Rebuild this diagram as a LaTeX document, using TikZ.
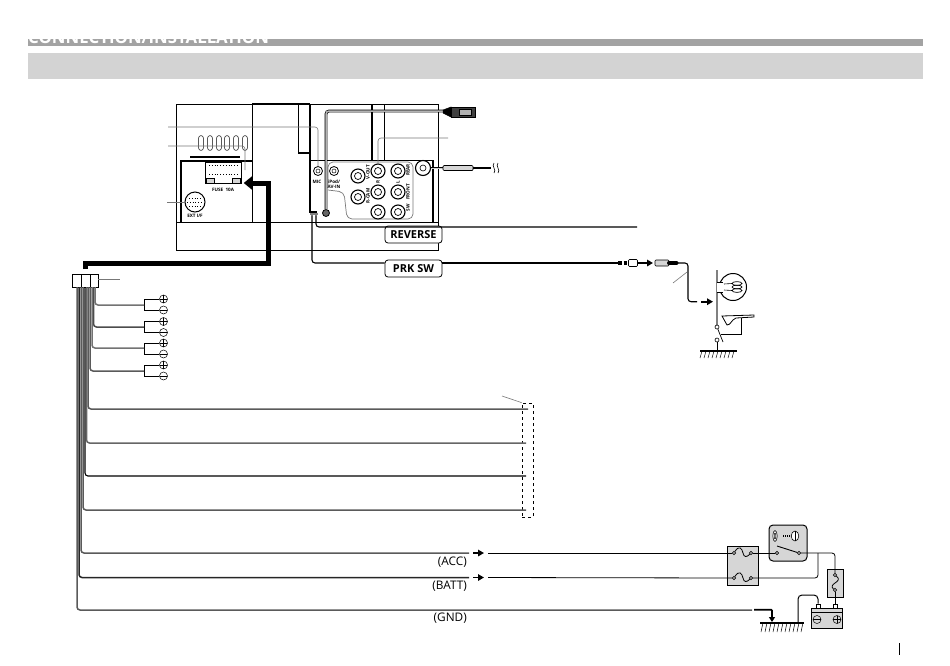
\documentclass[tikz,border=0pt]{standalone}
\usepackage{fontspec}
\setmainfont{Open Sans}
\usetikzlibrary{arrows.meta, shapes}
\definecolor{barDark}{HTML}{A3A3A3}
\definecolor{barLight}{HTML}{D3D3D3}
\definecolor{wireGray}{HTML}{5A5A5A}
\definecolor{leadGray}{HTML}{777777}
\definecolor{fillGray}{HTML}{D6D6D6}
\tikzset{
  unit/.style={line width=.9pt},
  thin wire/.style={line width=.8pt, rounded corners=3pt},
  wire/.style={line width=1.1pt, rounded corners=3pt},
  gray wire/.style={line width=1.5pt, wireGray, rounded corners=3pt},
  leader/.style={line width=.6pt, leadGray, rounded corners=3pt},
  jack/.style={circle, draw, line width=.8pt, inner sep=0pt, minimum size=#1, fill=white},
  ring/.style={circle, draw, line width=.6pt, inner sep=0pt, minimum size=3.2pt, fill=white},
  tiny/.style={inner sep=0pt, font=\fontsize{4.6}{5}\selectfont\bfseries},
  tag/.style={draw, rounded corners=3pt, line width=.8pt, fill=white, minimum width=57pt, minimum height=17pt, inner sep=0pt, font=\fontsize{11}{12}\selectfont\bfseries},
  lab/.style={inner sep=0pt, anchor=east, font=\fontsize{11.8}{13}\selectfont},
  panel/.style={draw, line width=.7pt, fill=fillGray},
  pole plus/.style={circle, draw, line width=.5pt, inner sep=0pt, minimum size=8pt, path picture={\draw[line width=.5pt] (path picture bounding box.north) -- (path picture bounding box.south) (path picture bounding box.east) -- (path picture bounding box.west);}},
  pole minus/.style={circle, draw, line width=.5pt, inner sep=0pt, minimum size=8pt, path picture={\draw[line width=.5pt] (path picture bounding box.east) -- (path picture bounding box.west);}},
  stub/.style={line width=1.8pt, -{Triangle[length=6pt,width=6.5pt]}},
}
\begin{document}
\begin{tikzpicture}[x=1pt, y=-1pt]
\useasboundingbox (0,0) rectangle (950,665);

% header bars
\fill[barDark] (28,39) rectangle (923,46);
\node[anchor=base west, inner sep=0pt, text=white, font=\fontsize{16.8}{17}\selectfont\bfseries] (title) at (28,43) {CONNECTION/INSTALLATION};
\fill[barLight] (28,53) rectangle (923,79);

% head unit
\draw[unit] (176,104) rectangle (438,250);
\draw[unit] (176,222) -- (438,222);
\draw[line width=1.5pt] (252,104) -- (310,104);
\draw[unit] (252,104) -- (252,222);
\draw[unit] (298,104) -- (298,153);
\draw[line width=1.5pt] (298,153) -- (310,153);
\draw[line width=1.3pt] (310,104) -- (310,212) -- (317,212);
\draw[line width=1.2pt] (372,104) -- (372,160);
\draw[unit] (384,104) -- (384,160);
\draw[unit] (310,160) -- (433,160);
\draw[line width=1.2pt] (433,160) -- (433,222);
\draw[line width=1.2pt] (181,222) -- (181,161) -- (252,161);
\draw[line width=1.2pt] (190,157) -- (240,157);
\foreach \px in {201,210,219,227,236,245}
  \draw[line width=.5pt] (\px-2.4,148) -- (\px-2.4,138) arc (180:360:2.4) -- (\px+2.4,148) arc (0:180:2.4);

% fuse socket
\draw[line width=.8pt, fill=white] (205,162) rectangle (241,183);
\draw[line width=.6pt, fill=fillGray] (206,178) rectangle (214,183);
\draw[line width=.6pt, fill=fillGray] (232,178) rectangle (240,183);
\draw[line width=.8pt, dotted] (209,165) -- (238,165);
\draw[line width=.8pt, dotted] (209,174) -- (238,174);
\node[tiny] (fuselab) at (223,190) {FUSE\ \ 10A};

% ports
\node[jack=20pt, line width=1pt] (extif) at (195,202) {};
\draw[line width=.8pt, dotted] (189,198) -- (201,198);
\draw[line width=.8pt, dotted] (187,202) -- (203,202);
\draw[line width=.8pt, dotted] (189,206) -- (201,206);
\node[tiny] (extlab) at (195,216) {EXT I/F};
\node[jack=9pt] (mic) at (318,171) {};
\node[jack=4pt, line width=.5pt] at (mic) {};
\node[tiny] (miclab) at (317,182) {MIC};
\node[jack=9pt] (ipod) at (334,171) {};
\node[jack=4pt, line width=.5pt] at (ipod) {};
\node[tiny, align=center] (ipodlab) at (334,184.5) {iPod/\\AV-IN};
\draw[leader, line width=.7pt, rounded corners=5pt] (328,188) -- (328,162) -- (413,162) -- (413,219) -- (347,219) -- (344,192) -- (328,190);
\node[jack=14pt, line width=1.1pt] (vout) at (358,176) {};
\node[jack=14pt, line width=1.1pt] (rcam) at (358,197) {};
\node[jack=14pt, line width=1.1pt] (rearR) at (378,171) {};
\node[jack=14pt, line width=1.1pt] (frontR) at (378,192) {};
\node[jack=14pt, line width=1.1pt] (swR) at (378,212) {};
\node[jack=14pt, line width=1.1pt] (rearL) at (398,171) {};
\node[jack=14pt, line width=1.1pt] (frontL) at (398,192) {};
\node[jack=14pt, line width=1.1pt] (swL) at (398,212) {};
\node[jack=7pt, line width=.7pt] at (vout) {};
\node[jack=7pt, line width=.7pt] at (rcam) {};
\node[jack=7pt, line width=.7pt] at (rearR) {};
\node[jack=7pt, line width=.7pt] at (frontR) {};
\node[jack=7pt, line width=.7pt] at (swR) {};
\node[jack=7pt, line width=.7pt] at (rearL) {};
\node[jack=7pt, line width=.7pt] at (frontL) {};
\node[jack=7pt, line width=.7pt] at (swL) {};
\node[tiny, rotate=90] (voutlab) at (368,172) {V-OUT};
\node[tiny, rotate=90] (rcamlab) at (368,196) {R-CAM};
\node[tiny, rotate=90] (rlab) at (378,182) {R};
\node[tiny, rotate=90] (llab) at (398,182) {L};
\node[tiny, rotate=90] (rearlab) at (408,170) {REAR};
\node[tiny, rotate=90] (frontlab) at (408,192) {FRONT};
\node[tiny, rotate=90] (swlab) at (408,208) {SW};
\node[jack=15pt, line width=1.1pt] (ant) at (423,168) {};
\node[jack=6pt, line width=.6pt] at (ant) {};

% antenna lead
\coordinate (antplugl) at (443,168);
\coordinate (antplugr) at (473,168);
\coordinate (antend) at (491,168);
\draw[line width=1.8pt] (ant) -- (antplugl);
\draw[line width=1pt, white!80!black] (ant) -- (antplugl);
\draw[line width=.7pt, fill=fillGray, rounded corners=1pt] (antplugl) ++(0,-2.5) rectangle ++(30,5);
\draw[line width=1.6pt] (antplugr) -- (antend);
\draw[line width=.6pt] (494,163) .. controls (491,166) and (497,170) .. (494,173);
\draw[line width=.6pt] (498,163) .. controls (495,166) and (501,170) .. (498,173);

% usb
\node[circle, draw, fill=black!60, line width=.8pt, inner sep=0pt, minimum size=7pt] (usbsock) at (326,213) {};
\coordinate (usbplug) at (443,111);
\draw[line width=2.8pt, rounded corners=3pt] (usbsock) -- (326,111) -- (usbplug);
\draw[line width=1.5pt, white!70!black, rounded corners=3pt] (usbsock) -- (326,111) -- (usbplug);
\node[draw, fill=black!75, line width=.6pt, minimum width=24pt, minimum height=10pt, inner sep=0pt, anchor=west] (usbbody) at (451,112) {};
\node[draw, fill=white!70!black, inner sep=0pt, minimum width=12pt, minimum height=6pt] (usbhead) at (465,112) {};
\draw[fill=black, line width=.5pt] (443,110) -- (451,107) -- (451,117) -- (443,113) -- cycle;

% leaders
\coordinate (leadmic) at (168,127);
\coordinate (leadfuse) at (168,146);
\coordinate (leadext) at (167,202);
\coordinate (leadrca) at (448,138);
\draw[leader] (leadmic) -- (318,127) -- (mic);
\draw[leader] (leadfuse) -- (245,146) -- (245,170);
\draw[leader] (leadext) -- (extif);
\draw[leader] (leadrca) -- (378,138) -- (rearR);

% thick harness
\node[inner sep=0pt] (harness) at (243,183) {};
\draw[line width=5pt, miter limit=10, -{Triangle[length=9pt,width=14pt]}] (85,269) -- (85,263.5) -- (268,263.5) -- (268,183) -- (harness);

% reverse and parking
\node[tag] (rev) at (413.5,234.5) {REVERSE};
\node[tag] (prk) at (413.5,268.5) {PRK SW};
\node[circle, draw, line width=.5pt, inner sep=0pt, minimum size=3pt] (revsock) at (316,214) {};
\node[circle, draw, line width=.5pt, inner sep=0pt, minimum size=3pt] (prksock) at (312,214) {};
\coordinate (revend) at (637,227);
\draw[wire] (revsock) -- (316,227) -- (rev.north west |- 0,227) -- (rev.north east |- 0,227) -- (revend);
\draw[wire] (prksock) -- (312,263) -- (prk.west |- 0,263);
\draw[wire] (prk.east |- 0,263) -- (618,263);

% parking connector
\node[draw, line width=.6pt, fill=white, rounded corners=1pt, minimum width=9pt, minimum height=7pt, inner sep=0pt] (prkplug) at (633,263) {};
\draw[line width=3.5pt, dotted, line cap=butt] (618,263) -- (prkplug.west);
\node[draw, line width=.6pt, fill=fillGray, rounded corners=1pt, minimum width=14pt, minimum height=6pt, inner sep=0pt] (prkjack) at (662,263) {};
\draw[line width=4pt, line cap=round, dash pattern=on 3pt off 1.5pt] (669,263) -- (678,263);
\draw[stub] (638,263) -- (653,263);
\draw[wire] (678,263) -- (688,263) -- (688,301.7) -- (697,301.7);
\draw[stub] (701,301.7) -- (713,301.7);
\draw[leader] (687,272) -- (673,283);

% brake lamp and switch
\node[circle, draw, line width=1pt, inner sep=0pt, minimum size=27pt, fill=white] (lamp) at (733,287) {};
\draw[line width=1.4pt, black!50] (717,270) -- (717,326);
\draw[line width=.9pt, fill=white] (717,282) -- (722,282) -- (722,292) -- (717,292);
\fill[white] (722.4,282.5) rectangle (725,291.5);
\draw[line width=.7pt] (737,283.5) ellipse (5 and 1.9);
\draw[line width=.7pt] (737,287) ellipse (5 and 1.9);
\draw[line width=.7pt] (737,290.5) ellipse (5 and 1.9);
\draw[line width=.6pt] (724,284) -- (732,283.5);
\draw[line width=.6pt] (724,290) -- (732,290.5);
\node[ring, minimum size=4pt] (swtop) at (717,327) {};
\node[ring, minimum size=4pt] (swbot) at (717,340) {};
\coordinate (swtip) at (723,342);
\draw[line width=.7pt] (swtop) -- (swtip);
\draw[line width=.8pt, fill=white] (722,316) -- (754,315) -- (754,317) -- (736,318) .. controls (731,320) and (731,325) .. (727,325) -- cycle;
\draw[line width=.7pt] (741,318) -- (741,334) -- (721,334);
\coordinate (gndA) at (717,351);
\draw[line width=.7pt] (swbot) -- (gndA);
\draw[line width=1.4pt] (700,351) -- (737,351);
\foreach \px in {702,706,...,736}
  \draw[line width=.5pt] (\px,351) -- (\px-2,358);

% speaker connector
\node[draw, line width=.8pt, minimum width=9pt, minimum height=13pt, inner sep=0pt] (connA) at (76.5,280.5) {};
\node[draw, line width=.8pt, minimum width=9pt, minimum height=13pt, inner sep=0pt] (connB) at (85.5,280.5) {};
\node[draw, line width=.8pt, minimum width=8pt, minimum height=13pt, inner sep=0pt] (connC) at (94,280.5) {};
\coordinate (connlead) at (120,279);
\draw[leader] (connC.east |- connlead) -- (connlead);

% speakers
\node[pole plus] (sp1p) at (163.5,299) {};
\node[pole minus] (sp1m) at (163.5,310) {};
\node[pole plus] (sp2p) at (163.5,321.5) {};
\node[pole minus] (sp2m) at (163.5,332.5) {};
\node[pole plus] (sp3p) at (163.5,343) {};
\node[pole minus] (sp3m) at (163.5,354) {};
\node[pole plus] (sp4p) at (163.5,365) {};
\node[pole minus] (sp4m) at (163.5,376) {};
\draw[line width=.8pt] (sp1p) -- (144,299) -- (144,310) -- (sp1m);
\draw[line width=.8pt] (sp2p) -- (144,321.5) -- (144,332.5) -- (sp2m);
\draw[line width=.8pt] (sp3p) -- (144,343) -- (144,354) -- (sp3m);
\draw[line width=.8pt] (sp4p) -- (144,365) -- (144,376) -- (sp4m);
\draw[gray wire, black!55] (95,287) -- (95,305) -- (144,305);
\draw[gray wire, black!70] (93.5,287) -- (93.5,327) -- (144,327);
\draw[gray wire, black!55] (92,287) -- (92,348) -- (144,348);
\draw[gray wire] (90,287) -- (90,371) -- (144,371);

% wires to the dashed group
\node[draw, dashed, line width=.7pt, minimum width=11pt, minimum height=114pt, inner sep=0pt] (group) at (527.5,460) {};
\coordinate (groupA) at (528,409);
\coordinate (groupB) at (526,443);
\coordinate (groupC) at (526,476);
\coordinate (groupD) at (526,510);
\draw[gray wire] (88,287) -- (88,409) -- (groupA);
\draw[gray wire, black!60] (86.5,287) -- (86.5,443) -- (groupB);
\draw[wire] (85,287) -- (85,476) -- (groupC);
\draw[gray wire] (83,287) -- (83,510) -- (groupD);
\coordinate (groupnote) at (502,396);
\draw[leader] (groupnote) -- (group.north west);

% power wires
\coordinate (accstub) at (469,553);
\coordinate (batstub) at (469,577.5);
\coordinate (gndstub) at (752,610);
\draw[gray wire] (81,287) -- (81,553) -- (accstub);
\draw[gray wire, black!85] (79,287) -- (79,577.5) -- (batstub);
\draw[gray wire] (77,287) -- (77,610) -- (gndstub);
\draw[stub] (473,553) -- (484,553);
\draw[stub] (473,577.5) -- (484,577.5);
\node[lab] (acc) at (467,562) {(ACC)};
\node[lab] (batt) at (467,586) {(BATT)};
\node[lab] (gnd) at (467,618) {(GND)};

% fuse box and ignition
\draw[panel] (727,546) rectangle (758,585);
\draw[panel, rounded corners=4pt, line width=1pt] (769,525) rectangle (807,561);
\node[ring] (accin) at (734,553) {};
\node[ring] (accout) at (751,553) {};
\node[ring] (batin) at (734,578) {};
\node[ring] (batout) at (751,578) {};
\node[ring] (keyin) at (777,553) {};
\node[ring] (keyout) at (799,553) {};
\draw[thin wire] (488,553) -- (accin);
\draw[thin wire] (488,577.5) -- (batin);
\draw[line width=.8pt] (accin) .. controls (739,545) and (742,548) .. (743,553) .. controls (744,558) and (747,557) .. (accout);
\draw[line width=.8pt] (batin) .. controls (739,570) and (742,573) .. (743,578) .. controls (744,583) and (747,582) .. (batout);
\draw[thin wire] (accout) -- (keyin);
\draw[line width=.9pt] (777,546) -- (keyout);
\coordinate (keybranch) at (818,553);
\node[panel, minimum width=16pt, minimum height=28pt, inner sep=0pt] (fusebat) at (835,583) {};
\node[ring] (fbtop) at (835,575) {};
\node[ring] (fbbot) at (835,590) {};
\draw[thin wire] (keyout) -- (835,553) -- (fbtop);
\draw[thin wire] (keybranch) -- (818,578) -- (batout);
\draw[line width=.8pt] (fbtop) .. controls (840,579) and (838,581) .. (835,583) .. controls (832,585) and (831,587) .. (fbbot);
% key symbol
\draw[line width=.6pt, fill=white] (775,536) ellipse (2.2 and 5.5);
\draw[line width=.5pt] (775,536) ellipse (.8 and 3);
\draw[line width=.6pt, fill=white] (795,536) ellipse (3.8 and 5);
\draw[line width=.5pt] (795,531) -- (795,541);
\draw[line width=1.8pt, dash pattern=on 1.2pt off .8pt] (783,536) -- (791,536);

% battery
\node[panel, minimum width=31pt, minimum height=20pt, inner sep=0pt] (battbox) at (826.5,618) {};
\draw[line width=.7pt] (811,612) -- (842,612);
\node[draw, line width=.7pt, fill=white, minimum width=4pt, minimum height=4pt, inner sep=0pt] (battneg) at (818,606) {};
\node[draw, line width=.7pt, fill=white, minimum width=4pt, minimum height=4pt, inner sep=0pt] (battpos) at (835,606) {};
\node[pole minus] (negsym) at (817,619.5) {};
\node[pole plus] (possym) at (837,619.5) {};
\draw[thin wire] (fbbot) -- (battpos);

% ground
\coordinate (gndB) at (798,622.7);
\draw[line width=1.6pt] (760,622.7) -- (804,622.7);
\foreach \px in {763,767,...,803}
  \draw[line width=.5pt] (\px,622.7) -- (\px-2,632);
\draw[line width=1pt, rounded corners=4pt] (gndB) -- (798,595) -- (818,595) -- (battneg);
\draw[line width=1.8pt, rounded corners=1pt, -{Triangle[length=5pt,width=6pt]}] (754,609.7) -- (772,609.7) -- (772,622);

% page mark
\coordinate (markT) at (899,643);
\coordinate (markB) at (899,655);
\draw[line width=.7pt] (markT) -- (markB);
\end{tikzpicture}
\end{document}
